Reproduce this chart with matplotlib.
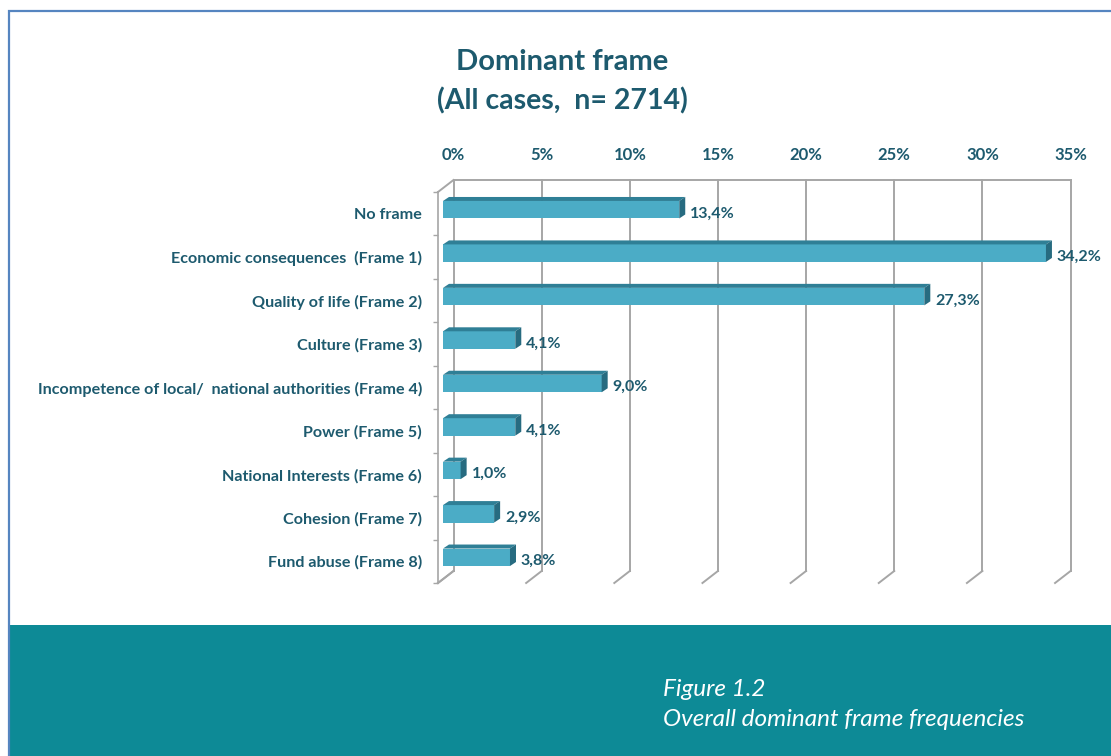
import matplotlib
matplotlib.use("Agg")
import matplotlib.pyplot as plt
from matplotlib.patches import Polygon, Rectangle
from matplotlib.transforms import Affine2D, blended_transform_factory

frames = ["No frame", "Economic consequences  (Frame 1)", "Quality of life (Frame 2)",
          "Culture (Frame 3)", "Incompetence of local/  national authorities (Frame 4)",
          "Power (Frame 5)", "National Interests (Frame 6)", "Cohesion (Frame 7)",
          "Fund abuse (Frame 8)"]
shares = [13.4, 34.2, 27.3, 4.1, 9.0, 4.1, 1.0, 2.9, 3.8]
x_ticks = [0, 5, 10, 15, 20, 25, 30, 35]

W, H = 1111, 756
FONT = "Lato"
TXT = "#1d5a6e"
GRID = "#a6a6a6"
FRONT = "#4bacc6"
TOP = "#2f7f96"
SIDE = "#276b80"
TEAL = "#0d8a96"

fig = plt.figure(figsize=(W / 100, H / 100), dpi=100, facecolor="white")

# page decoration, in pixels
bg = fig.add_axes([0, 0, 1, 1], zorder=0)
bg.set_xlim(0, W)
bg.set_ylim(H, 0)
bg.axis("off")
bg.plot([8.5, 8.5, W], [H, 11, 11], color="#5585c0", lw=1.6, solid_joinstyle="miter")
bg.add_patch(Rectangle((9, 625), W - 9, H - 625, color=TEAL, lw=0))
bg.text(562, 62, "Dominant frame", ha="center", va="center", fontsize=21, fontweight="bold",
        family=FONT, color=TXT)
bg.text(562, 101, "(All cases,  n= 2714)", ha="center", va="center", fontsize=20.5, fontweight="bold",
        family=FONT, color=TXT)
bg.text(663, 689, "Figure 1.2", ha="left", va="center", fontsize=17.5, style="italic",
        family=FONT, color="white")
bg.text(663, 719, "Overall dominant frame frequencies", ha="left", va="center", fontsize=17.5,
        style="italic", family=FONT, color="white")

# axes = front plane of the fake 3d wall
PX_PCT = 17.63
left, right, top, bottom = 438, 438 + 35 * PX_PCT, 192, 583
ax = fig.add_axes([left / W, 1 - bottom / H, (right - left) / W, (bottom - top) / H], zorder=1)
ax.patch.set_alpha(0)
ax.set_xlim(0, 35)
ax.set_ylim(len(frames) - 0.5, -0.5)
PX_CAT = (bottom - top) / len(frames)

for s in ["top", "right", "bottom"]:
    ax.spines[s].set_visible(False)
ax.spines["left"].set_color(GRID)
ax.spines["left"].set_linewidth(1.2)
ax.set_xticks([])
ax.set_yticks(range(len(frames)))
ax.set_yticklabels(frames, family=FONT, fontweight="bold", fontsize=11.65, color=TXT)
ax.tick_params(axis="y", which="major", length=0, pad=11.5)
ax.set_yticks([i - 0.5 for i in range(len(frames) + 1)], minor=True)
ax.tick_params(axis="y", which="minor", length=3.6, color=GRID, width=1)

# back wall grid, shifted up and right from the front plane
back_dx, back_dy = 15.5 / PX_PCT, 12 / PX_CAT
y0, y1 = -0.5, len(frames) - 0.5
for t in x_ticks:
    ax.plot([t + back_dx] * 2, [y0 - back_dy, y1 - back_dy], color=GRID, lw=1.4, zorder=1,
            clip_on=False)
    ax.plot([t, t + back_dx], [y1, y1 - back_dy], color=GRID, lw=1.4, zorder=1, clip_on=False)
ax.plot([x_ticks[0] + back_dx, x_ticks[-1] + back_dx], [y0 - back_dy] * 2, color=GRID, lw=1.4,
        zorder=1, clip_on=False)
ax.plot([0, back_dx], [y0, y0 - back_dy], color=GRID, lw=1.4, zorder=1, clip_on=False)
ax.plot([0, back_dx], [y1, y1 - back_dy], color=GRID, lw=1.4, zorder=1, clip_on=False)

label_tr = blended_transform_factory(ax.transData, fig.transFigure)
for t in x_ticks:
    ax.text(t + back_dx, 1 - 155 / H, f"{t}%", transform=label_tr, ha="center", va="center",
            family=FONT, fontweight="bold", fontsize=12, color=TXT)

# bars: front face plus top and side faces
shift = Affine2D().translate(5, 4)
bar_tr = ax.transData + shift
bar_h = 17.5 / PX_CAT
depth_x, depth_y = 6 / PX_PCT, 4 / PX_CAT
for i, v in enumerate(shares):
    y_t, y_b = i - bar_h / 2, i + bar_h / 2
    ax.barh(i, v, height=bar_h, color=FRONT, transform=bar_tr, zorder=3, clip_on=False)
    ax.add_patch(Polygon([(0, y_t), (v, y_t), (v + depth_x, y_t - depth_y), (depth_x, y_t - depth_y)],
                         color=TOP, lw=0, transform=bar_tr, zorder=3, clip_on=False))
    ax.add_patch(Polygon([(v, y_t), (v + depth_x, y_t - depth_y), (v + depth_x, y_b - depth_y), (v, y_b)],
                         color=SIDE, lw=0, transform=bar_tr, zorder=3, clip_on=False))
    ax.annotate(f"{v:.1f}%".replace(".", ","), (v + depth_x, i), xycoords=bar_tr,
                xytext=(3.5, -2.7), textcoords="offset points", ha="left", va="center",
                family=FONT, fontweight="bold", fontsize=11.5, color=TXT, zorder=4,
                annotation_clip=False)

fig.savefig("out.png", dpi=100)
